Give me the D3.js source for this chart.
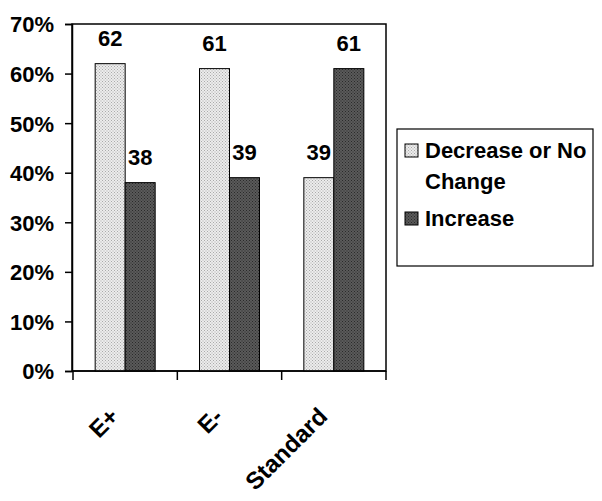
<!DOCTYPE html>
<html><head><meta charset="utf-8">
<script src="https://cdn.jsdelivr.net/npm/d3@7"></script>
<style>body{margin:0;background:#fff}svg{display:block}text{font-family:"Liberation Sans",Arial,sans-serif;font-weight:bold;fill:#000}</style>
</head><body>
<script>
const categories = ["E+", "E-", "Standard"];
const seriesNames = ["Decrease or No Change", "Increase"];
const decreaseValues = [62, 61, 39];
const increaseValues = [38, 39, 61];
const yTicks = [0, 10, 20, 30, 40, 50, 60, 70];

const W = 602, H = 501;
const svg = d3.select("body").append("svg").attr("width", W).attr("height", H);
const defs = svg.append("defs");
function pat(id, bg, fg) {
  const p = defs.append("pattern").attr("id", id).attr("patternUnits", "userSpaceOnUse").attr("width", 3).attr("height", 3);
  p.append("rect").attr("width", 3).attr("height", 3).attr("fill", bg);
  p.append("rect").attr("x", 0).attr("y", 0).attr("width", 1).attr("height", 1).attr("fill", fg);
  p.append("rect").attr("x", 1.5).attr("y", 1.5).attr("width", 1).attr("height", 1).attr("fill", fg);
}
pat("pLight", "#ececec", "#aaaaaa");
pat("pDark", "#5a5a5a", "#2a2a2a");
const fills = ["url(#pLight)", "url(#pDark)"];

const L = 72, R = 386, T = 24, B = 371;
const x = d3.scaleBand().domain(categories).range([L + 1, R]).padding(0);
const groupW = x.bandwidth() * 0.575;
const x1 = d3.scaleBand().domain(seriesNames).range([0, groupW]);
const y = d3.scaleLinear().domain([0, 70]).range([B, T]);

// plot border
svg.append("rect").attr("x", L).attr("y", T).attr("width", R - L).attr("height", B - T)
  .attr("fill", "none").attr("stroke", "#000").attr("stroke-width", 1.5);

const data = categories.map((c, i) => ({cat: c, vals: [decreaseValues[i], increaseValues[i]]}));
const g = svg.append("g");
data.forEach(d => {
  const gx = x(d.cat) + (x.bandwidth() - groupW) / 2;
  d.vals.forEach((v, j) => {
    const bx = gx + x1(seriesNames[j]);
    g.append("rect").attr("x", bx).attr("y", y(v)).attr("width", x1.bandwidth()).attr("height", B - y(v))
      .attr("fill", fills[j]).attr("stroke", "#000").attr("stroke-width", 1);
    g.append("text").attr("x", bx + x1.bandwidth() / 2).attr("y", y(v) - 18)
      .attr("text-anchor", "middle").attr("font-size", 22).text(v);
  });
});

// y axis
const yAxis = svg.append("g").attr("transform", `translate(${L},0)`)
  .call(d3.axisLeft(y).tickValues(yTicks).tickSize(7).tickFormat(d => d + "%"));
yAxis.select(".domain").attr("stroke", "#000").attr("stroke-width", 1.5);
yAxis.selectAll(".tick line").attr("stroke", "#000").attr("stroke-width", 1.5);
yAxis.selectAll(".tick text").attr("font-size", 22).attr("x", -18).attr("dy", "0.36em")
  .style("font-family", '"Liberation Sans",Arial,sans-serif').style("font-weight", "bold");

// x axis ticks at band edges
const edges = categories.map(c => x(c)).concat([R]);
svg.append("g").selectAll("line").data(edges).join("line")
  .attr("x1", d => d).attr("x2", d => d).attr("y1", B).attr("y2", B + 9)
  .attr("stroke", "#000").attr("stroke-width", 1.5);
svg.append("line").attr("x1", L).attr("x2", R).attr("y1", B).attr("y2", B).attr("stroke", "#000").attr("stroke-width", 1.5);

svg.append("g").selectAll("text").data(categories).join("text")
  .attr("transform", d => `translate(${x(d) + x.bandwidth() / 2 - 5},${418}) rotate(-45)`)
  .attr("text-anchor", "end").attr("font-size", 24).text(d => d);

// legend
const lg = svg.append("g");
lg.append("rect").attr("x", 397).attr("y", 129).attr("width", 196).attr("height", 137)
  .attr("fill", "#fff").attr("stroke", "#000").attr("stroke-width", 1.2);
const legendRows = [{lines: ["Decrease or No", "Change"], y: 158}, {lines: ["Increase"], y: 226}];
legendRows.forEach((r, i) => {
  lg.append("rect").attr("x", 405).attr("y", r.y - 14).attr("width", 13).attr("height", 13)
    .attr("fill", fills[i]).attr("stroke", "#000").attr("stroke-width", 1);
  r.lines.forEach((t, k) => {
    lg.append("text").attr("x", 425).attr("y", r.y + k * 31).attr("font-size", 22).text(t);
  });
});
</script>
</body></html>
